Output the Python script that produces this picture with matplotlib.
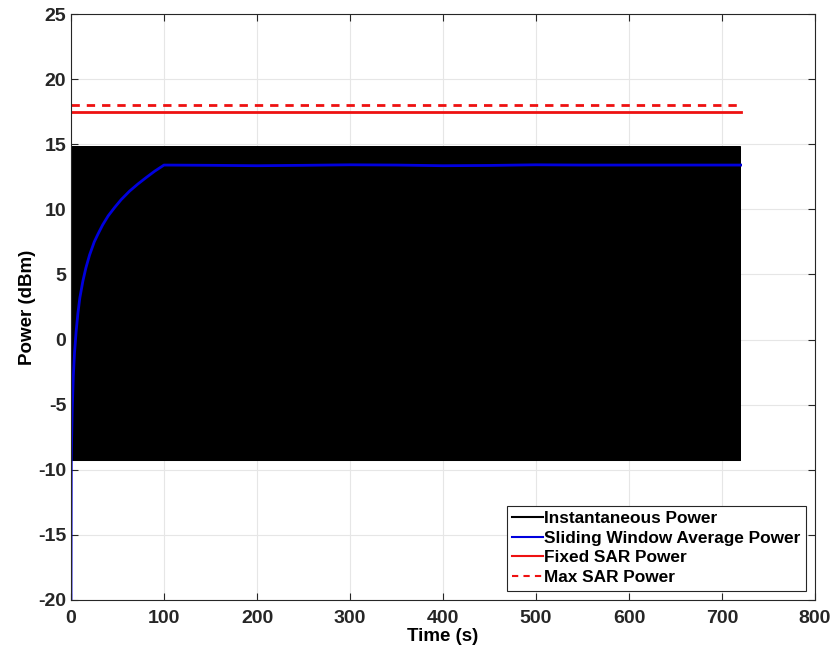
import numpy as np
import matplotlib
matplotlib.use("Agg")
import matplotlib.pyplot as plt

# time axis end and SAR limits (dBm)
t_end = 720
fixed_sar = 17.5
max_sar = 18.0

# instantaneous power toggles between these two levels (dBm)
inst_levels = [14.8, -9.3]
inst_step = 0.25  # seconds per sample

# sliding window average
avg_t = [0, 0.3, 1.3, 2.5, 3.8, 5.5, 7.4, 9.5, 12.8, 16, 20, 25, 29, 34, 40,
         47, 54, 63, 72, 81, 90, 100,
         150, 200, 250, 300, 350, 400, 450, 500, 550, 600, 650, 700, 720]
avg_p = [-20, -9, -5.4, -2.8, -1.0, 0.6, 2.0, 3.2, 4.5, 5.5, 6.5, 7.5, 8.1,
         8.8, 9.5, 10.15, 10.75, 11.4, 11.95, 12.45, 12.93, 13.4,
         13.38, 13.35, 13.38, 13.42, 13.4, 13.35, 13.37, 13.42, 13.4, 13.4,
         13.4, 13.4, 13.4]

inst_t = np.arange(0, t_end + inst_step, inst_step)
inst_p = np.resize(inst_levels, inst_t.size)

plt.rcParams['font.family'] = ['Liberation Sans', 'DejaVu Sans']
plt.rcParams['font.weight'] = 'bold'
plt.rcParams['axes.unicode_minus'] = False

fig = plt.figure(figsize=(8.35, 6.57), dpi=100)
ax = fig.add_axes([71 / 835, 57 / 657, 744 / 835, 586 / 657])

ax.plot(inst_t, inst_p, color="black", lw=0.6, label="Instantaneous Power")
ax.plot(avg_t, avg_p, color="#0000dd", lw=2, label="Sliding Window Average Power")
ax.plot([0, t_end], [fixed_sar, fixed_sar], color="#ee1111", lw=2, label="Fixed SAR Power")
ax.plot([0, t_end], [max_sar, max_sar], color="#ee1111", lw=2, ls=(0, (3, 2.5)),
        label="Max SAR Power")

ax.set_xlim(0, 800)
ax.set_ylim(-20, 25)
ax.set_xticks(range(0, 801, 100))
ax.set_yticks(range(-20, 26, 5))
ax.grid(True, color="#e6e6e6", lw=0.8)
ax.set_axisbelow(True)
ax.tick_params(direction="in", top=True, right=True, labelsize=14,
               colors="#262626", length=5, width=0.8)
ax.tick_params(axis="x", pad=7)
for s in ax.spines.values():
    s.set_color("#262626")
    s.set_linewidth(0.8)

ax.set_xlabel("Time (s)", fontsize=13.5, fontweight="bold", labelpad=1)
ax.set_ylabel("Power (dBm)", fontsize=13.5, fontweight="bold", labelpad=1)

leg = ax.legend(loc="lower right", fontsize=12.4, handlelength=1.8,
                handletextpad=0.05, borderpad=0.3, labelspacing=0.28,
                fancybox=False, framealpha=1, borderaxespad=0.55)
leg.get_frame().set_edgecolor("#262626")
leg.get_frame().set_linewidth(0.8)
for line in leg.get_lines():
    line.set_linewidth(1.5)

fig.savefig("out.png", dpi=100)
